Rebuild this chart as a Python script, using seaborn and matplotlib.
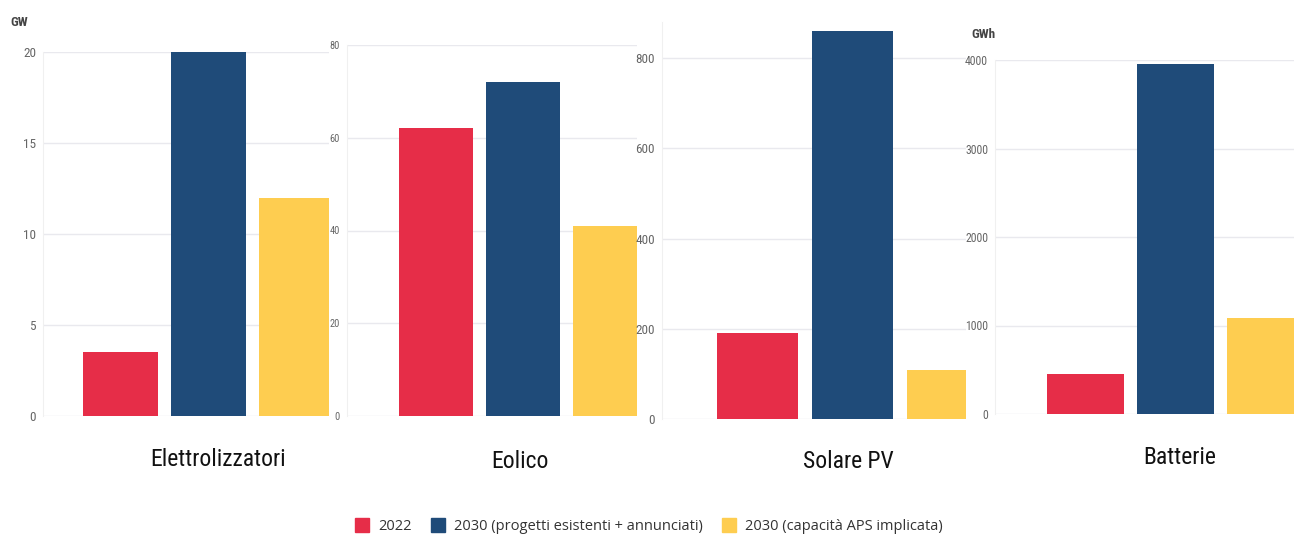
import matplotlib
matplotlib.use("Agg")
import matplotlib.pyplot as plt
from matplotlib import font_manager
from matplotlib.lines import Line2D
import seaborn as sns
import pandas as pd

# --- data -------------------------------------------------------------
technologies = ["Elettrolizzatori", "Eolico", "Solare PV", "Batterie"]
series = ["2022", "2030 (progetti esistenti + annunciati)", "2030 (capacità APS implicata)"]
elettrolizzatori = [3.5, 20, 12]
eolico = [62, 72, 41]
solare_pv = [190, 860, 108]
batterie = [450, 3950, 1090]
units = ["GW", "", "", "GWh"]
y_ticks = [[0, 5, 10, 15, 20], [0, 20, 40, 60, 80], [0, 200, 400, 600, 800],
           [0, 1000, 2000, 3000, 4000]]
y_limits = [20, 80, 880, 4000]
colors = ["#E62D48", "#1F4B79", "#FECD50"]

# --- fonts --------------------------------------------------------------
sns.set_style("white")


def _is_regular(f):
    w = f.weight
    if isinstance(w, str):
        return w in ("normal", "regular", "book")
    return 350 <= w <= 450


regular_names = {f.name for f in font_manager.fontManager.ttflist
                 if _is_regular(f) and f.style == "normal"}
prefs = ["Liberation Sans Narrow", "Roboto Condensed", "Open Sans Condensed",
         "Noto Sans Condensed", "Open Sans", "DejaVu Sans"]
narrow_font = next(f for f in prefs if f in regular_names)
plt.rcParams["font.family"] = [narrow_font, "DejaVu Sans"]
legend_font = ["Open Sans", "DejaVu Sans"]

W, H = 1294, 537
fig = plt.figure(figsize=(W / 100, H / 100), dpi=100)

# panel frames in pixels: left, right, top, bottom
frames = [(43, 329, 52, 416), (347, 637, 45, 416), (662, 966, 22, 419), (995, 1294, 60, 414)]
xlims = [(-0.50, 0.365), (-0.54, 0.35), (-0.535, 0.319), (-0.535, 0.351)]
tick_sizes = [9.5, 7.5, 9.5, 8.5]
label_pos = [(218, 460), (520, 462), (848, 462), (1180, 458)]
values_all = [elettrolizzatori, eolico, solare_pv, batterie]

for i, tech in enumerate(technologies):
    l, r, t, b = frames[i]
    ax = fig.add_axes([l / W, 1 - b / H, (r - l) / W, (b - t) / H])
    df = pd.DataFrame({"tech": [tech] * 3, "serie": series, "valore": values_all[i]})
    sns.barplot(data=df, x="tech", y="valore", hue="serie", hue_order=series,
                palette=colors, width=0.8, gap=0.15, saturation=1,
                legend=False, ax=ax)
    for p in ax.patches:
        p.set_linewidth(0)
    ax.set_xlim(*xlims[i])
    ax.set_ylim(0, y_limits[i])
    ax.set_yticks(y_ticks[i])
    ax.set_yticklabels([str(v) for v in y_ticks[i]])
    ax.yaxis.grid(True, color="#e9e9ee", linewidth=1)
    ax.set_axisbelow(True)
    ax.set_xticks([0])
    ax.set_xticklabels([""])
    ax.tick_params(axis="x", length=4, color="#e2e2e2", width=0.8)
    ax.tick_params(axis="y", length=0, pad=5, labelsize=tick_sizes[i], labelcolor="#666666")
    ax.set_xlabel("")
    ax.set_ylabel("")
    for s in ["top", "right", "bottom"]:
        ax.spines[s].set_visible(False)
    ax.spines["left"].set_color("#f0f0f0")
    ax.spines["left"].set_linewidth(0.8)
    ax.patch.set_alpha(0)

    fx, fy = label_pos[i]
    fig.text(fx / W, 1 - fy / H, tech, ha="center", va="center",
             fontsize=17, color="#111111")

# unit labels
fig.text(10 / W, 1 - 22 / H, units[0], ha="left", va="center",
         fontsize=9.5, fontweight="bold", color="#444444")
fig.text(971 / W, 1 - 35 / H, units[3], ha="left", va="center",
         fontsize=9.5, fontweight="bold", color="#444444")

# legend
handles = [Line2D([0], [0], marker="s", linestyle="", markersize=10.5,
                  markerfacecolor=c, markeredgecolor=c) for c in colors]
fig.legend(handles, series, loc="center", bbox_to_anchor=(645 / W, 1 - 527 / H),
           ncol=3, frameon=False, handletextpad=0.1, columnspacing=0.8,
           labelcolor="#333333", prop={"family": legend_font, "size": 10.5})

fig.savefig("out.png", dpi=100)
